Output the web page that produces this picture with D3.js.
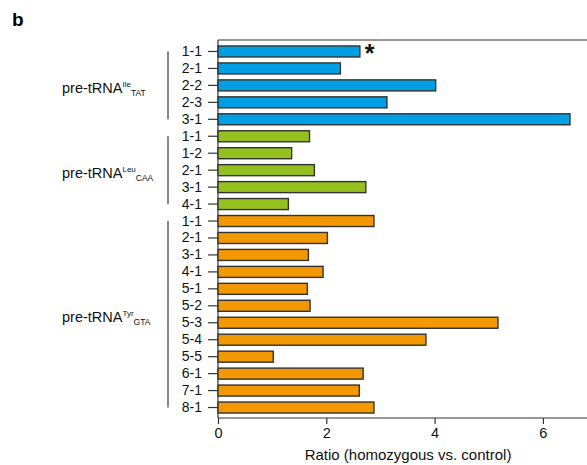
<!DOCTYPE html>
<html><head><meta charset="utf-8">
<script src="https://cdn.jsdelivr.net/npm/d3@7"></script>
<style>body{margin:0;background:#fff}svg{display:block;font-family:"Liberation Sans",Arial,sans-serif}</style>
</head><body><svg id="c" width="587" height="465"></svg>
<script>
const groups = ["Ile","Leu","Tyr"];
const groupSup = ["Ile","Leu","Tyr"];
const groupSub = ["TAT","CAA","GTA"];
const ileLabels = ["1-1","2-1","2-2","2-3","3-1"];
const ileValues = [2.62,2.26,4.02,3.12,6.50];
const leuLabels = ["1-1","1-2","2-1","3-1","4-1"];
const leuValues = [1.69,1.36,1.78,2.73,1.30];
const tyrLabels = ["1-1","2-1","3-1","4-1","5-1","5-2","5-3","5-4","5-5","6-1","7-1","8-1"];
const tyrValues = [2.88,2.02,1.67,1.94,1.65,1.70,5.17,3.84,1.02,2.68,2.61,2.88];
const xTicks = [0,2,4,6];
const colors = {Ile:"#009fe3", Leu:"#95c11f", Tyr:"#f39800"};
const starred = [{group:"Ile", label:"1-1"}];

const rows = [];
[[ "Ile", ileLabels, ileValues],["Leu", leuLabels, leuValues],["Tyr", tyrLabels, tyrValues]].forEach(([g,ls,vs])=>{
  ls.forEach((l,i)=>rows.push({id:g+"_"+l, group:g, label:l, value:vs[i]}));
});

const svg = d3.select("#c");
const plotLeft = 218, plotTop = 40, plotBottom = 418;
const x = d3.scaleLinear().domain([0,6]).range([plotLeft, plotLeft + 6*54.15]);
const xMax = x.invert(587);
const y = d3.scaleBand().domain(rows.map(d=>d.id)).range([43, 416]).paddingInner(0.35).paddingOuter(0.175);

svg.append("text").attr("x",12).attr("y",26).attr("font-size",19).attr("font-weight","bold").text("b");

// frame
svg.append("line").attr("x1",plotLeft).attr("x2",x(xMax)).attr("y1",plotTop).attr("y2",plotTop).attr("stroke","#333").attr("stroke-width",1.2);
svg.append("line").attr("x1",plotLeft).attr("x2",plotLeft).attr("y1",plotTop).attr("y2",plotBottom).attr("stroke","#333").attr("stroke-width",1.2);

// bars
svg.selectAll("rect.bar").data(rows).join("rect").attr("class","bar")
  .attr("x",x(0)).attr("y",d=>y(d.id)).attr("width",d=>x(d.value)-x(0)).attr("height",y.bandwidth())
  .attr("fill",d=>colors[d.group]).attr("stroke","#333").attr("stroke-width",1.4);

// y axis
const yAxis = d3.axisLeft(y).tickSize(10).tickPadding(6).tickFormat(id=>rows.find(r=>r.id===id).label);
const ya = svg.append("g").attr("transform",`translate(${plotLeft},0)`).call(yAxis);
ya.select(".domain").remove();
ya.selectAll(".tick line").attr("stroke","#333").attr("stroke-width",1.2);
ya.selectAll(".tick text").attr("font-size",14).attr("fill","#111").attr("font-family","Liberation Sans, Arial, sans-serif");

// x axis
const xAxis = d3.axisBottom(x).tickValues(xTicks).tickSize(6).tickPadding(4).tickFormat(d3.format("d"));
const xa = svg.append("g").attr("transform",`translate(0,${plotBottom})`).call(xAxis);
xa.select(".domain").attr("d",`M${plotLeft},0H${x(xMax)}`).attr("stroke","#333").attr("stroke-width",1.2);
xa.selectAll(".tick line").attr("stroke","#333").attr("stroke-width",1.2);
xa.selectAll(".tick text").attr("font-size",14.5).attr("fill","#111").attr("font-family","Liberation Sans, Arial, sans-serif");
svg.append("text").attr("x",408).attr("y",460).attr("text-anchor","middle").attr("font-size",15).attr("fill","#111").text("Ratio (homozygous vs. control)");

// star
starred.forEach(s=>{
  const r = rows.find(d=>d.group===s.group && d.label===s.label);
  svg.append("text").attr("x",x(r.value)+5).attr("y",y(r.id)+y.bandwidth()/2+11).attr("font-size",25).attr("font-weight","bold").attr("fill","#111").text("*");
});

// group brackets and labels
groups.forEach((g,i)=>{
  const gr = rows.filter(d=>d.group===g);
  const y1 = y(gr[0].id)+y.bandwidth()/2, y2 = y(gr[gr.length-1].id)+y.bandwidth()/2;
  svg.append("line").attr("x1",168).attr("x2",168).attr("y1",y1).attr("y2",y2).attr("stroke","#888").attr("stroke-width",2);
  const t = svg.append("text").attr("x",62).attr("y",(y1+y2)/2+7.5).attr("font-size",14.5).attr("fill","#111");
  t.append("tspan").text("pre-tRNA");
  t.append("tspan").attr("font-size",8).attr("dy",-5.5).text(groupSup[i]);
  t.append("tspan").attr("font-size",8.5).attr("dy",8.5).text(groupSub[i]);
});
</script></body></html>
